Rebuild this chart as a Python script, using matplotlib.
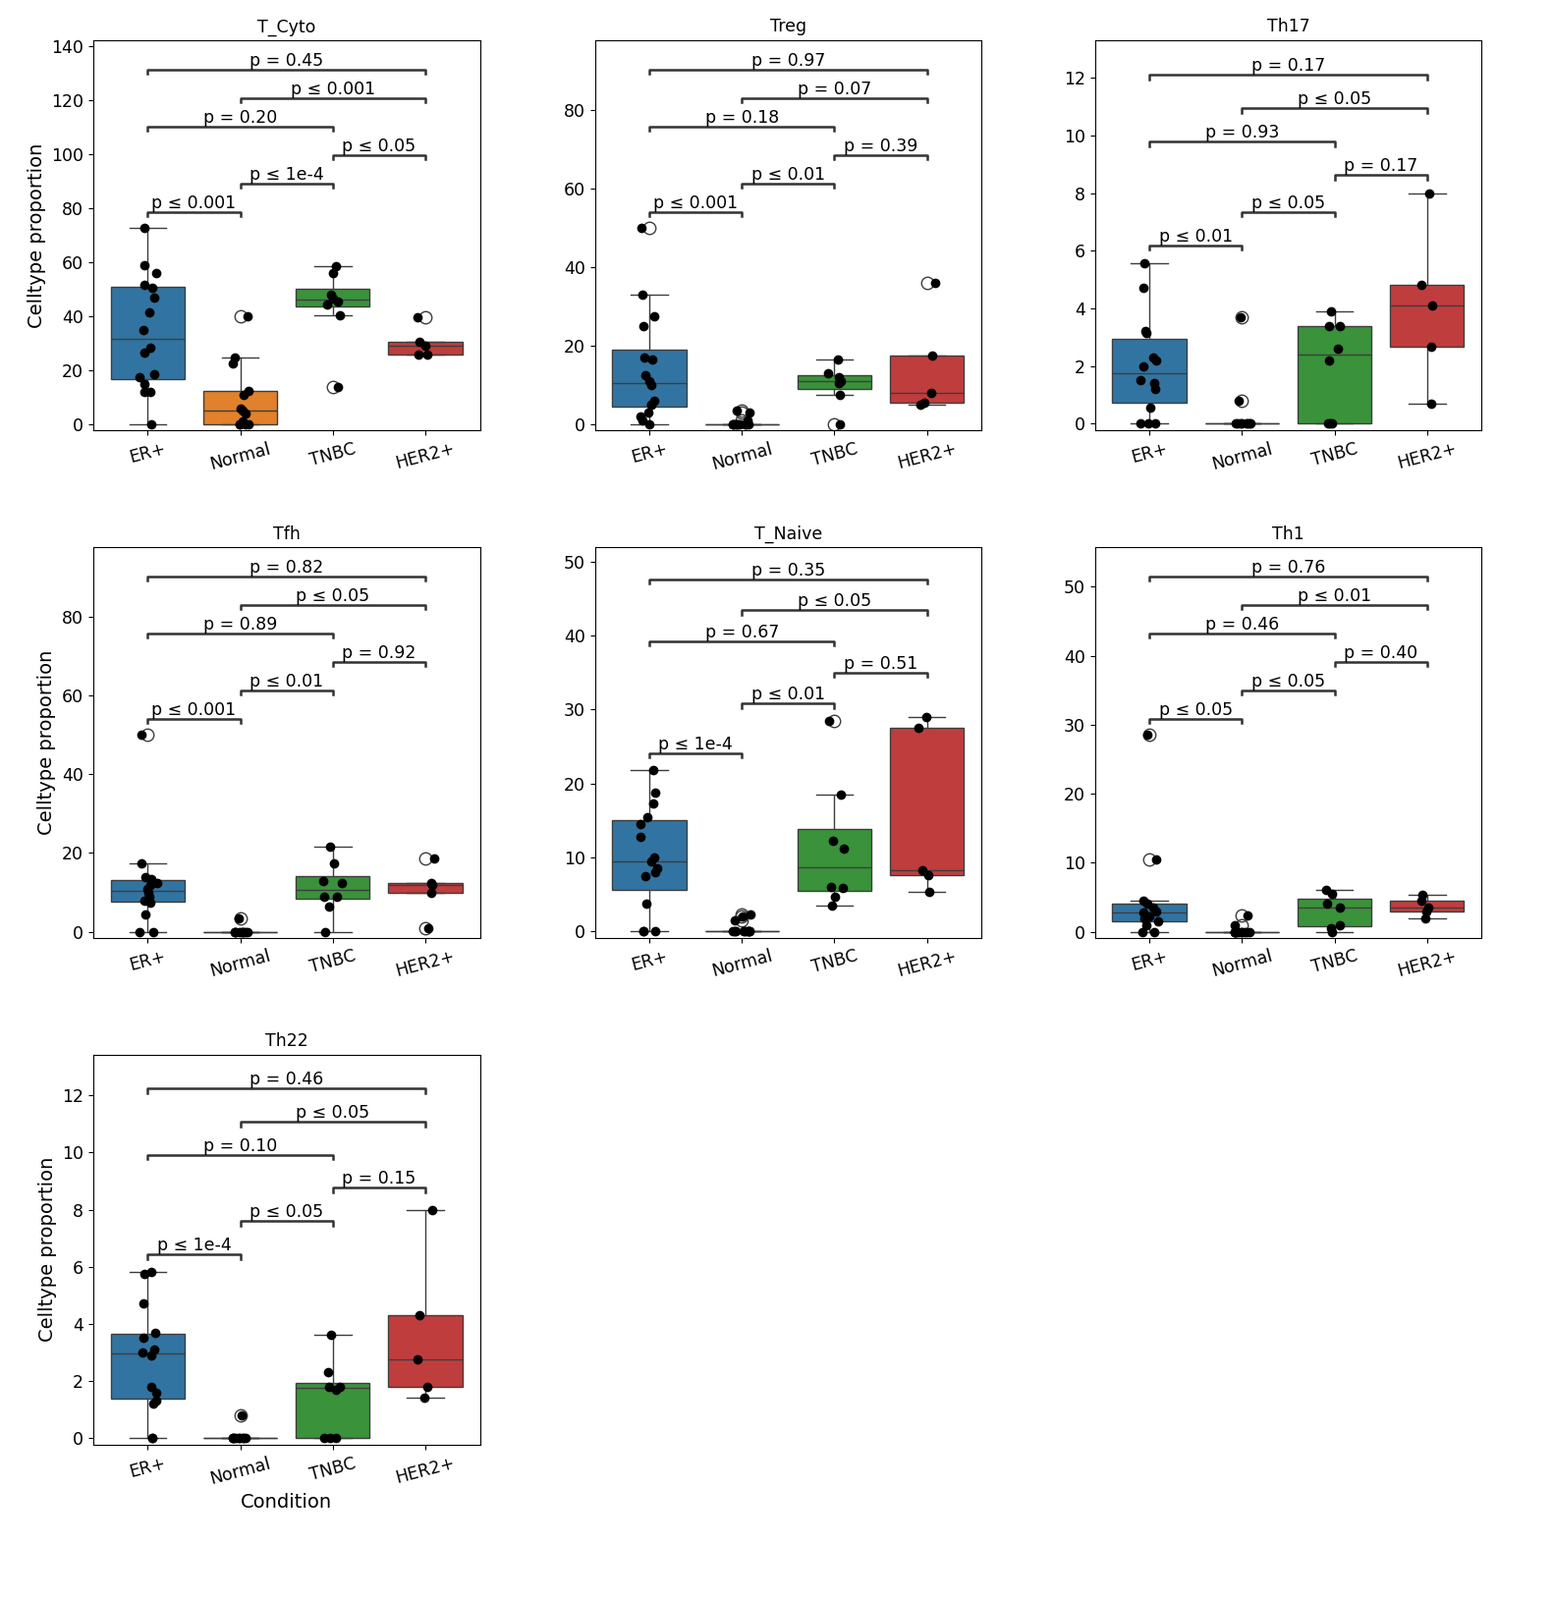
import matplotlib
matplotlib.use("Agg")
import matplotlib.pyplot as plt
import numpy as np
import pandas as pd
import seaborn as sns

groups = ["ER+", "Normal", "TNBC", "HER2+"]
colors = ["#1f77b4", "#ff7f0e", "#2ca02c", "#d62728"]
pairs = [(0, 1), (1, 2), (2, 3), (0, 2), (1, 3), (0, 3)]

celltypes = ["T_Cyto", "Treg", "Th17", "Tfh", "T_Naive", "Th1", "Th22"]

values = {
    "T_Cyto": [
        [72.7, 59, 56, 51.5, 50.5, 47, 41.5, 35, 28.5, 26.5, 18.5, 17.5, 15, 12, 12, 0],
        [40, 24.8, 22.5, 12.5, 11, 6, 5, 4, 1, 0, 0, 0, 0],
        [58.5, 56, 48, 46.5, 45.5, 44.5, 40.5, 14],
        [39.5, 30.5, 29, 26, 25.8],
    ],
    "Treg": [
        [50, 33, 27.5, 25, 17, 16.5, 12.5, 11, 10, 6, 5, 5, 3, 2, 1, 0],
        [3.5, 3, 1, 0, 0, 0, 0, 0, 0, 0, 0, 0, 0],
        [16.5, 13, 12, 11, 10.5, 7.5, 0],
        [36, 17.5, 8, 5.5, 5],
    ],
    "Th17": [
        [5.55, 4.7, 3.2, 3.15, 2.3, 2.2, 2.0, 1.5, 1.4, 1.2, 0.55, 0, 0, 0],
        [3.7, 0.8, 0, 0, 0, 0, 0, 0, 0, 0],
        [3.9, 3.4, 3.4, 2.6, 2.2, 0, 0, 0],
        [8, 4.8, 4.1, 2.65, 0.7],
    ],
    "Tfh": [
        [50, 17.5, 14, 13.5, 12.5, 12, 11, 10, 9, 8, 7.5, 4.5, 0, 0],
        [3.5, 0, 0, 0, 0, 0, 0, 0, 0, 0],
        [21.5, 17.5, 13, 12.5, 9, 9, 6.5, 0],
        [18.5, 12.5, 12, 10, 1],
    ],
    "T_Naive": [
        [21.8, 18.8, 17.3, 15.5, 14.5, 12.8, 10, 9.5, 8.5, 8, 7.5, 3.7, 0, 0, 0],
        [2.3, 2, 1.5, 0, 0, 0, 0, 0, 0, 0, 0, 0, 0],
        [28.5, 18.5, 12.3, 11.2, 6, 5.8, 4.7, 3.5],
        [29, 27.5, 8.2, 7.6, 5.3],
    ],
    "Th1": [
        [28.5, 10.5, 4.5, 4, 3.5, 3, 2.8, 2.2, 2, 1.5, 1, 0, 0],
        [2.3, 1, 0, 0, 0, 0, 0, 0, 0, 0, 0, 0, 0],
        [6, 5.5, 4, 3.5, 1, 0.5, 0],
        [5.3, 4.5, 3.5, 3, 2],
    ],
    "Th22": [
        [5.8, 5.75, 4.7, 3.7, 3.5, 3.1, 3.0, 2.9, 1.8, 1.6, 1.3, 1.2, 0, 0],
        [0.8, 0, 0, 0, 0, 0, 0, 0, 0, 0],
        [3.6, 2.3, 1.8, 1.8, 1.7, 0, 0, 0],
        [8, 4.3, 2.75, 1.8, 1.4],
    ],
}

# p-values in order of pairs
pvals = {
    "T_Cyto": ["p ≤ 0.001", "p ≤ 1e-4", "p ≤ 0.05", "p = 0.20", "p ≤ 0.001", "p = 0.45"],
    "Treg": ["p ≤ 0.001", "p ≤ 0.01", "p = 0.39", "p = 0.18", "p = 0.07", "p = 0.97"],
    "Th17": ["p ≤ 0.01", "p ≤ 0.05", "p = 0.17", "p = 0.93", "p ≤ 0.05", "p = 0.17"],
    "Tfh": ["p ≤ 0.001", "p ≤ 0.01", "p = 0.92", "p = 0.89", "p ≤ 0.05", "p = 0.82"],
    "T_Naive": ["p ≤ 1e-4", "p ≤ 0.01", "p = 0.51", "p = 0.67", "p ≤ 0.05", "p = 0.35"],
    "Th1": ["p ≤ 0.05", "p ≤ 0.05", "p = 0.40", "p = 0.46", "p ≤ 0.01", "p = 0.76"],
    "Th22": ["p ≤ 1e-4", "p ≤ 0.05", "p = 0.15", "p = 0.10", "p ≤ 0.05", "p = 0.46"],
}

lefts = [0.060, 0.383, 0.705]
bottoms = [0.731, 0.414, 0.097]
W, H = 0.249, 0.244

fig = plt.figure(figsize=(15.81, 16.29), dpi=100)

for k, ct in enumerate(celltypes):
    r, c = divmod(k, 3)
    ax = fig.add_axes([lefts[c], bottoms[r], W, H])
    rows = []
    for g, vals in zip(groups, values[ct]):
        rows += [(g, v) for v in vals]
    df = pd.DataFrame(rows, columns=["Condition", "val"])
    sns.boxplot(data=df, x="Condition", y="val", order=groups, hue="Condition",
                hue_order=groups, palette=colors, legend=False, ax=ax,
                flierprops=dict(marker="o", markerfacecolor="none", markersize=9))
    sns.stripplot(data=df, x="Condition", y="val", order=groups, color="black",
                  size=7, jitter=0.1, ax=ax)

    ymax = df["val"].max()
    off = 0.08 * ymax
    step = 0.145 * ymax
    tip = 0.02 * ymax
    tops = []
    for (i, j), txt in zip(pairs, pvals[ct]):
        dmax = max(max(values[ct][g]) for g in range(i, j + 1))
        y = dmax + off
        for (a, b), yy in tops:
            if not (b < i or a > j):
                y = max(y, yy + step)
        tops.append(((i, j), y))
        ax.plot([i, i, j, j], [y - tip, y, y, y - tip], color="#333333", lw=1.8)
        ax.text((i + j) / 2, y, txt, ha="center", va="bottom", fontsize=12.5)

    ax.set_ylim(-0.03 * ymax, max(yy for _, yy in tops) + 0.15 * ymax)
    ax.set_title(ct, fontsize=12.5)
    ax.tick_params(axis="x", labelrotation=15, labelsize=12.5)
    ax.tick_params(axis="y", labelsize=12.5)
    ax.set_ylabel("Celltype proportion" if c == 0 else "", fontsize=14)
    ax.set_xlabel("Condition" if k == 6 else "", fontsize=14)

fig.savefig("out.png", dpi=100)
